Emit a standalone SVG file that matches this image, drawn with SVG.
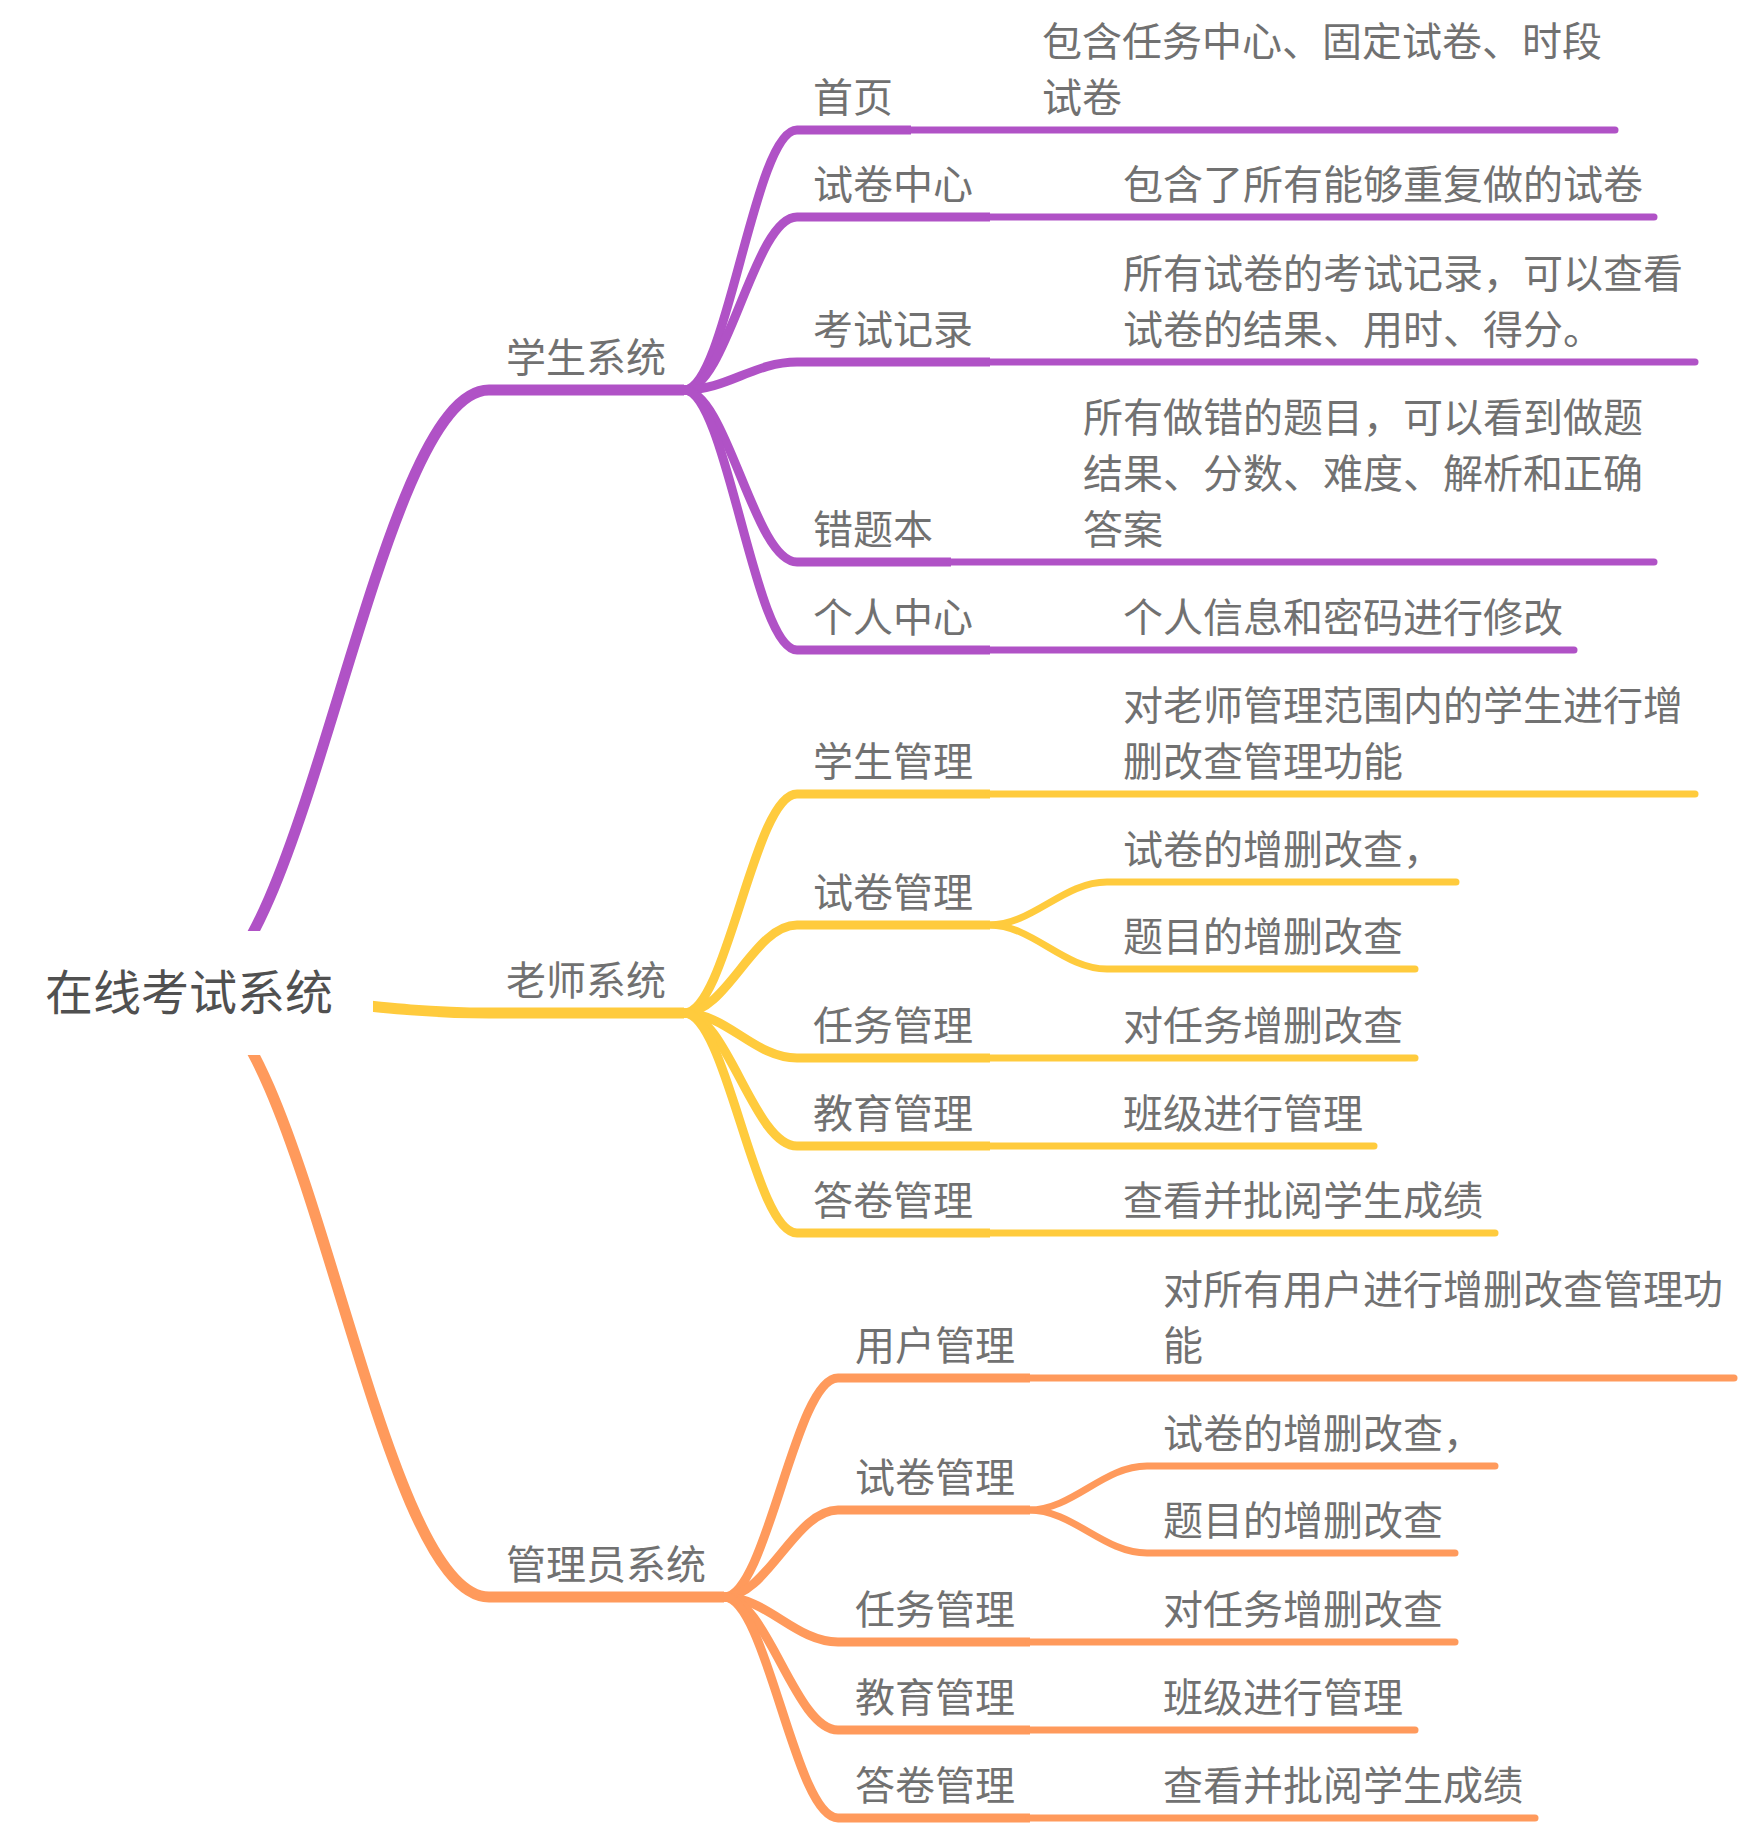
<svg xmlns="http://www.w3.org/2000/svg" width="1746" height="1826" viewBox="0 0 1746 1826">
  <style>
    text { font-family: "Noto Sans CJK SC", "Noto Sans", sans-serif; fill: #717171; font-size: 40px; }
    .root { font-size: 48px; fill: #505050; }
    path, line { fill: none; }
    .p { stroke: #b052c6; }
    .y { stroke: #ffcb3d; }
    .o { stroke: #ff9a5c; }
    .main { stroke-width: 11; }
    .child { stroke-width: 9; }
    .leaf { stroke-width: 7; stroke-linecap: round; }
  </style>

  <rect width="1746" height="1826" fill="#ffffff"/>

  <!-- connectors: branch curves and topic underlines -->
  <g id="connectors">
    <!-- root to main branches -->
    <path class="p main" d="M190,993 C305,993 375,390 489,390 L684,390"/>
    <path class="y main" d="M190,993 C305,993 375,1013 489,1013 L684,1013"/>
    <path class="o main" d="M190,993 C305,993 375,1597 489,1597 L724,1597"/>

    <!-- 学生系统 children -->
    <path class="p child" d="M684,390 C727,390 754,130 797,130 L911,130"/>
    <path class="p child" d="M684,390 C727,390 754,217 797,217 L990,217"/>
    <path class="p child" d="M684,390 C727,390 754,362 797,362 L990,362"/>
    <path class="p child" d="M684,390 C727,390 754,562 797,562 L951,562"/>
    <path class="p child" d="M684,390 C727,390 754,650 797,650 L990,650"/>
    <path class="p leaf" d="M910,130 L1615,130"/>
    <path class="p leaf" d="M989,217 L1654,217"/>
    <path class="p leaf" d="M989,362 L1695,362"/>
    <path class="p leaf" d="M950,562 L1654,562"/>
    <path class="p leaf" d="M989,650 L1574,650"/>

    <!-- 老师系统 children -->
    <path class="y child" d="M684,1013 C727,1013 754,794 797,794 L990,794"/>
    <path class="y child" d="M684,1013 C727,1013 754,925 797,925 L990,925"/>
    <path class="y child" d="M684,1013 C727,1013 754,1058 797,1058 L990,1058"/>
    <path class="y child" d="M684,1013 C727,1013 754,1146 797,1146 L990,1146"/>
    <path class="y child" d="M684,1013 C727,1013 754,1233 797,1233 L990,1233"/>
    <path class="y leaf" d="M989,794 L1695,794"/>
    <path class="y leaf" d="M989,925 C1033,925 1063,882 1107,882 L1456,882"/>
    <path class="y leaf" d="M989,925 C1033,925 1063,969 1107,969 L1415,969"/>
    <path class="y leaf" d="M989,1058 L1415,1058"/>
    <path class="y leaf" d="M989,1146 L1374,1146"/>
    <path class="y leaf" d="M989,1233 L1495,1233"/>

    <!-- 管理员系统 children -->
    <path class="o child" d="M724,1597 C767,1597 795,1378 838,1378 L1030,1378"/>
    <path class="o child" d="M724,1597 C767,1597 795,1510 838,1510 L1030,1510"/>
    <path class="o child" d="M724,1597 C767,1597 795,1642 838,1642 L1030,1642"/>
    <path class="o child" d="M724,1597 C767,1597 795,1730 838,1730 L1030,1730"/>
    <path class="o child" d="M724,1597 C767,1597 795,1818 838,1818 L1030,1818"/>
    <path class="o leaf" d="M1029,1378 L1734,1378"/>
    <path class="o leaf" d="M1029,1510 C1073,1510 1103,1466 1147,1466 L1495,1466"/>
    <path class="o leaf" d="M1029,1510 C1073,1510 1103,1553 1147,1553 L1455,1553"/>
    <path class="o leaf" d="M1029,1642 L1455,1642"/>
    <path class="o leaf" d="M1029,1730 L1415,1730"/>
    <path class="o leaf" d="M1029,1818 L1535,1818"/>
  </g>

  <!-- central topic -->
  <g id="root">
    <rect x="8" y="931" width="365" height="124" fill="#ffffff"/>
    <text class="root" x="45" y="1010">在线考试系统</text>
  </g>

  <!-- main branches -->
  <g id="student"><text x="506" y="372">学生系统</text></g>
  <g id="teacher"><text x="506" y="995">老师系统</text></g>
  <g id="admin"><text x="506" y="1579">管理员系统</text></g>

  <!-- 学生系统 -->
  <g id="s-home">
    <text x="813" y="112">首页</text>
    <text x="1042" y="56">包含任务中心、固定试卷、时段</text>
    <text x="1042" y="112">试卷</text>
  </g>
  <g id="s-papers">
    <text x="813" y="199">试卷中心</text>
    <text x="1123" y="199">包含了所有能够重复做的试卷</text>
  </g>
  <g id="s-records">
    <text x="813" y="344">考试记录</text>
    <text x="1123" y="288">所有试卷的考试记录，可以查看</text>
    <text x="1123" y="344">试卷的结果、用时、得分。</text>
  </g>
  <g id="s-mistakes">
    <text x="813" y="544">错题本</text>
    <text x="1083" y="432">所有做错的题目，可以看到做题</text>
    <text x="1083" y="488">结果、分数、难度、解析和正确</text>
    <text x="1083" y="544">答案</text>
  </g>
  <g id="s-profile">
    <text x="813" y="632">个人中心</text>
    <text x="1123" y="632">个人信息和密码进行修改</text>
  </g>

  <!-- 老师系统 -->
  <g id="t-students">
    <text x="813" y="776">学生管理</text>
    <text x="1123" y="720">对老师管理范围内的学生进行增</text>
    <text x="1123" y="776">删改查管理功能</text>
  </g>
  <g id="t-papers">
    <text x="813" y="907">试卷管理</text>
    <text x="1123" y="864">试卷的增删改查，</text>
    <text x="1123" y="951">题目的增删改查</text>
  </g>
  <g id="t-tasks">
    <text x="813" y="1040">任务管理</text>
    <text x="1123" y="1040">对任务增删改查</text>
  </g>
  <g id="t-classes">
    <text x="813" y="1128">教育管理</text>
    <text x="1123" y="1128">班级进行管理</text>
  </g>
  <g id="t-marking">
    <text x="813" y="1215">答卷管理</text>
    <text x="1123" y="1215">查看并批阅学生成绩</text>
  </g>

  <!-- 管理员系统 -->
  <g id="a-users">
    <text x="855" y="1360">用户管理</text>
    <text x="1163" y="1304">对所有用户进行增删改查管理功</text>
    <text x="1163" y="1360">能</text>
  </g>
  <g id="a-papers">
    <text x="855" y="1492">试卷管理</text>
    <text x="1163" y="1448">试卷的增删改查，</text>
    <text x="1163" y="1535">题目的增删改查</text>
  </g>
  <g id="a-tasks">
    <text x="855" y="1624">任务管理</text>
    <text x="1163" y="1624">对任务增删改查</text>
  </g>
  <g id="a-classes">
    <text x="855" y="1712">教育管理</text>
    <text x="1163" y="1712">班级进行管理</text>
  </g>
  <g id="a-marking">
    <text x="855" y="1800">答卷管理</text>
    <text x="1163" y="1800">查看并批阅学生成绩</text>
  </g>
</svg>
